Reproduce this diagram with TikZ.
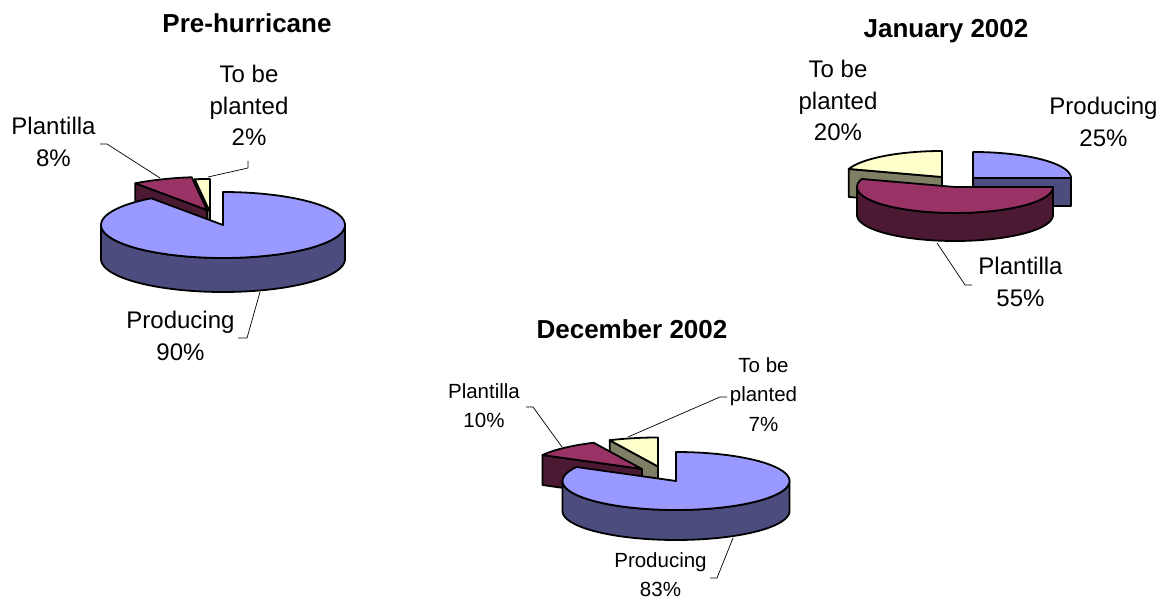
\documentclass[tikz,border=0pt]{standalone}
\usepackage{fontspec}
\setmainfont{Liberation Sans}
\definecolor{prtop}{HTML}{9999FF}
\definecolor{prside}{HTML}{4C4C7F}
\definecolor{pltop}{HTML}{993366}
\definecolor{plside}{HTML}{4C1933}
\definecolor{cmtop}{HTML}{FFFFCC}
\definecolor{cmside}{HTML}{7F7F66}
\newcommand{\pietop}[7]{%
  \path[#7] (#1,#2) -- plot[domain=#5:#6,samples=90] ({#1+#3*cos(\x)},{#2-#4*sin(\x)}) -- cycle;}
\newcommand{\pieband}[8]{%
  \path[#8] plot[domain=#6:#7,samples=90] ({#1+#3*cos(\x)},{#2-#4*sin(\x)}) -- plot[domain=#7:#6,samples=90] ({#1+#3*cos(\x)},{#2+#5-#4*sin(\x)}) -- cycle;}
\newcommand{\pierad}[7]{%
  \path[#7] (#1,#2) -- ({#1+#3*cos(#6)},{#2-#4*sin(#6)}) -- ++(0,#5) -- (#1,{#2+#5}) -- cycle;}
\tikzset{
  face/.style={draw=black,line width=1.8pt,line join=round},
  prT/.style={face,fill=prtop}, prS/.style={face,fill=prside},
  plT/.style={face,fill=pltop}, plS/.style={face,fill=plside},
  cmT/.style={face,fill=cmtop}, cmS/.style={face,fill=cmside},
  lbl/.style={font=\fontsize{24}{31.5}\selectfont,align=center,inner sep=0pt,anchor=north},
  lbls/.style={font=\fontsize{20.5}{29.5}\selectfont,align=center,inner sep=0pt,anchor=north},
  ttl/.style={font=\bfseries\fontsize{26}{30}\selectfont,inner sep=0pt,anchor=north},
  leader/.style={draw=black,line width=0.7pt}
}
\begin{document}
\begin{tikzpicture}[x=1pt,y=-1pt]
\useasboundingbox[fill=white] (0,0) rectangle (1163,601);
% ---------- Pre-hurricane ----------
\pierad{210}{212}{122}{33}{34}{97.2}{cmS}
\pietop{210}{212}{122}{33}{90}{97.2}{cmT}
\pierad{207}{210}{122}{33}{34}{126}{plS}
\pietop{207}{210}{122}{33}{97.2}{126}{plT}
\pieband{223}{225}{122}{33}{34}{180}{360}{prS}
\pietop{223}{225}{122}{33}{126}{450}{prT}
\node[ttl] (t1) at (247,13) {Pre-hurricane};
\node[lbl] (l1pl) at (53.5,117) {Plantilla\\8\%};
\node[lbl] (l1tb) at (249,65) {To be\\planted\\2\%};
\node[lbl] (l1pr) at (180.5,311) {Producing\\90\%};
\coordinate (a1pl) at (100,144); \coordinate (s1pl) at (160,178);
\coordinate (a1tb) at (248,161); \coordinate (s1tb) at (208,177);
\coordinate (a1pr) at (238,338); \coordinate (s1pr) at (260,292);
\draw[leader] (a1pl) -- ++(7,0) -- (s1pl);
\draw[leader] (a1tb) -- ++(0,7) -- (s1tb);
\draw[leader] (a1pr) -- ++(9,0) -- (s1pr);
% ---------- January 2002 ----------
\pierad{942}{177}{98}{26}{28}{162}{cmS}
\pietop{942}{177}{98}{26}{90}{162}{cmT}
\pierad{973}{178}{98}{26}{28}{0}{prS}
\pietop{973}{178}{98}{26}{0}{90}{prT}
\pieband{955}{187}{98}{26}{28}{180}{360}{plS}
\pietop{955}{187}{98}{26}{162}{360}{plT}
\node[ttl] (t2) at (946,19) {January 2002};
\node[lbl] (l2tb) at (838,60) {To be\\planted\\20\%};
\node[lbl] (l2pr) at (1103.5,97) {Producing\\25\%};
\node[lbl] (l2pl) at (1020.5,257) {Plantilla\\55\%};
\coordinate (a2pl) at (972,285); \coordinate (s2pl) at (937,243);
\draw[leader] (a2pl) -- ++(-7,0) -- (s2pl);
% ---------- December 2002 ----------
\pierad{658}{466.5}{113.5}{29}{30}{115.2}{cmS}
\pietop{658}{466.5}{113.5}{29}{90}{115.2}{cmT}
\pierad{642}{469}{113.5}{29}{30}{151.2}{plS}
\pietop{642}{469}{113.5}{29}{115.2}{151.2}{plT}
\pieband{676}{481}{113.5}{29}{30}{180}{360}{prS}
\pietop{676}{481}{113.5}{29}{151.2}{450}{prT}
\node[ttl] (t3) at (632,319) {December 2002};
\node[lbls] (l3pl) at (484,383) {Plantilla\\10\%};
\node[lbls] (l3tb) at (763.5,357) {To be\\planted\\7\%};
\node[lbls] (l3pr) at (660.5,552) {Producing\\83\%};
\coordinate (a3pl) at (526,407); \coordinate (s3pl) at (562,447);
\coordinate (a3tb) at (727,397); \coordinate (s3tb) at (628,437);
\coordinate (a3pr) at (710,578); \coordinate (s3pr) at (733,538);
\draw[leader] (a3pl) -- ++(7,0) -- (s3pl);
\draw[leader] (a3tb) -- ++(-7,0) -- (s3tb);
\draw[leader] (a3pr) -- ++(7,0) -- (s3pr);
\end{tikzpicture}
\end{document}
